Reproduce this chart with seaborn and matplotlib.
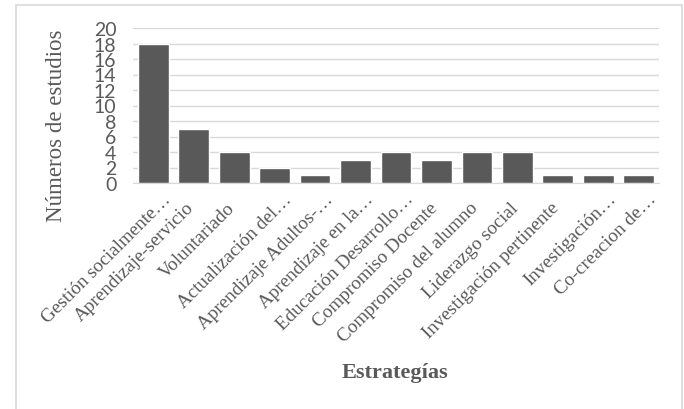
import pandas as pd
import matplotlib.pyplot as plt
import matplotlib.transforms as mtransforms
import seaborn as sns
from matplotlib.patches import Rectangle

# === Daten ===
estrategias = [
    "Gestión socialmente…", "Aprendizaje-servicio", "Voluntariado",
    "Actualización del…", "Aprendizaje Adultos-…", "Aprendizaje en la…",
    "Educación Desarrollo…", "Compromiso Docente", "Compromiso del alumno",
    "Liderazgo social", "Investigación pertinente", "Investigación…",
    "Co-creacion de…",
]
estudios = [18, 7, 4, 2, 1, 3, 4, 3, 4, 4, 1, 1, 1]

df = pd.DataFrame({"Estrategia": estrategias, "Estudios": estudios})

sns.set_style("white")
serif = ["Liberation Serif", "DejaVu Serif"]
plt.rcParams["font.family"] = serif

gris = "#595959"

fig = plt.figure(figsize=(6.84, 4.10), dpi=100)
# Rahmen um das Diagramm
fig.patches.append(Rectangle((16 / 684, -0.1), 666 / 684, 1.1 - 6 / 410,
                             transform=fig.transFigure, fill=False,
                             edgecolor="#d9d9d9", linewidth=1.2))

ax = fig.add_axes([133 / 684, 1 - 184 / 410, 526 / 684, 155 / 410])
sns.barplot(data=df, x="Estrategia", y="Estudios", color=gris,
            saturation=1, width=0.76, ax=ax, zorder=3)

ax.set_ylim(0, 20)
ax.set_yticks(range(0, 21, 2))
ax.set_yticklabels([str(v) for v in range(0, 21, 2)],
                   family=["Lato", "DejaVu Sans"], fontsize=14, color=gris)
ax.yaxis.grid(True, color="#d9d9d9", linewidth=1, zorder=0)
ax.set_xlim(-0.5, len(estrategias) - 0.5)
for s in ["top", "right", "left"]:
    ax.spines[s].set_visible(False)
ax.spines["bottom"].set_color("#d9d9d9")

ax.tick_params(axis="y", length=0, pad=12)
ax.tick_params(axis="x", length=0, pad=5)
ax.set_xticks(range(len(estrategias)))
ax.set_xticklabels(estrategias, family=serif, fontsize=13.8, color=gris,
                   rotation=45, ha="right", rotation_mode="anchor")
# Beschriftungen wie im Original verschieben: gekürzte Texte füllen den Platz,
# vollständige Texte sitzen etwas tiefer
kurz = mtransforms.ScaledTranslation(9 / 100, 0, fig.dpi_scale_trans)
voll = mtransforms.ScaledTranslation(-8 / 100, -9 / 100, fig.dpi_scale_trans)
for lab in ax.get_xticklabels():
    versatz = kurz if lab.get_text().endswith("…") else voll
    lab.set_transform(lab.get_transform() + versatz)

ax.set_ylabel("")
ax.set_xlabel("")
fig.text(57 / 684, 1 - 126 / 410, "Números de estudios", rotation=90,
         ha="center", va="center", fontsize=16.5, color=gris, family=serif)
fig.text(395 / 684, 1 - 373 / 410, "Estrategías", ha="center", va="center",
         fontsize=16, fontweight="bold", color=gris, family=serif)

fig.savefig("out.png", dpi=100)
